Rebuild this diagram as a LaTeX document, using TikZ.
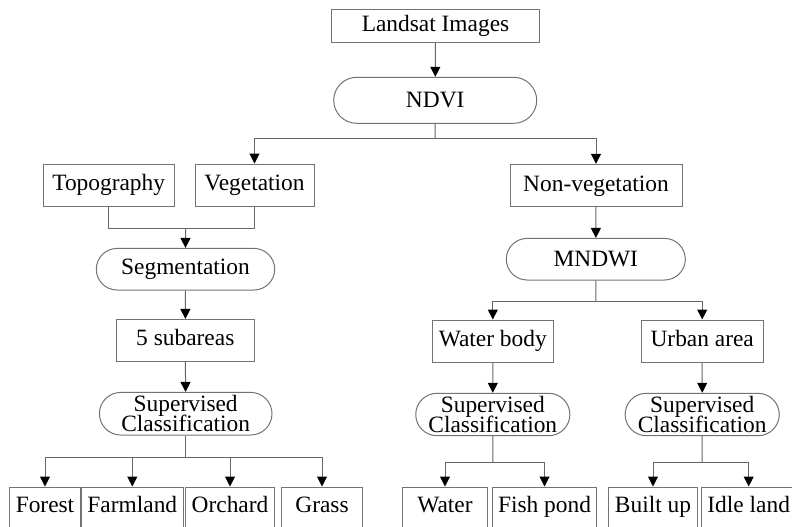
\documentclass[tikz,border=0pt]{standalone}
\usepackage{fontspec}
\setmainfont{Liberation Serif}
\usetikzlibrary{shapes}
\usetikzlibrary{shapes.misc}
\usetikzlibrary{arrows.meta}
\newcommand{\tightfont}{\fontsize{11.7}{10.2}\selectfont\lineskiplimit=-20pt\relax}
\tikzset{
    boxn/.style = {rectangle, draw=black!55, line width=0.5pt, align=center, inner sep=2pt, text height=8.2pt, text depth=2.6pt},
    roundn/.style = {rounded rectangle, draw=black!55, line width=0.5pt, align=center, inner sep=1pt, font=\tightfont},
    leafn/.style = {rectangle, draw=black!55, line width=0.5pt, anchor=north, inner sep=3pt, text height=9.5pt, text depth=40pt},
    edgen/.style = {-, line width=0.5pt, black!60},
    edgea/.style = {-{Triangle[length=5pt,width=5pt,black]}, line width=0.5pt, black!60},
    every picture/.style={font issue=\fontsize{11.7}{9.6}},
    font issue/.style={execute at begin picture={#1\selectfont}}
}
\begin{document}
\begin{tikzpicture}[x=0.5pt,y=-0.5pt]
\useasboundingbox (0,0) rectangle (792,526);
%
\node[boxn, minimum width=103.8pt, minimum height=16.7pt] at (435.5,26) (land) {Landsat Images};
\node[roundn, minimum width=103.5pt, minimum height=23pt] at (435.2,100.3) (ndvi) {NDVI};
\node[boxn, minimum width=65.3pt, minimum height=21.3pt] at (108.7,185.3) (topo) {Topography};
\node[boxn, minimum width=59.5pt, minimum height=21.3pt] at (254.5,185.3) (veg) {Vegetation};
\node[roundn, minimum width=91.2pt, minimum height=20.8pt] at (185.5,269.2) (seg) {Segmentation};
\node[boxn, minimum width=68.7pt, minimum height=20.8pt] at (185.3,340.2) (sub) {5 subareas};
\node[roundn, minimum width=88.3pt, minimum height=21.3pt] at (185.7,413.7) (supa) {Supervised\\Classification};
\node[boxn, minimum width=86pt, minimum height=21.2pt] at (596,185.5) (nonveg) {Non-vegetation};
\node[roundn, minimum width=91.5pt, minimum height=20.8pt] at (595.8,259.2) (mndwi) {MNDWI};
\node[boxn, minimum width=60.5pt, minimum height=21.3pt] at (492.8,341.3) (wbody) {Water body};
\node[boxn, minimum width=60.8pt, minimum height=21.3pt] at (702.2,341.3) (urban) {Urban area};
\node[roundn, minimum width=73.8pt, minimum height=21.2pt] at (492.8,414.5) (supb) {Supervised\\Classification};
\node[roundn, minimum width=75.5pt, minimum height=21.2pt] at (702.2,414.5) (supc) {Supervised\\Classification};
%
\node[leafn, minimum width=33.3pt] at (45,486.5) (forest) {Forest};
\node[leafn, minimum width=46.6pt] at (132.3,486.5) (farm) {Farmland};
\node[leafn, minimum width=44pt] at (230,486.5) (orchard) {Orchard};
\node[leafn, minimum width=40.3pt] at (322,486.5) (grass) {Grass};
\node[leafn, minimum width=42.3pt] at (445,486.5) (water) {Water};
\node[leafn, minimum width=47.8pt] at (544.5,486.5) (fish) {Fish pond};
\node[leafn, minimum width=41.3pt] at (653,486.5) (built) {Built up};
\node[leafn, minimum width=42pt] at (748.7,486.5) (idle) {Idle land};
%
\coordinate (spa) at (435.2,138.3);
\coordinate (jn) at (185.5,228.3);
\coordinate (spb) at (185.7,457.7);
\coordinate (spc) at (595.8,301.7);
\coordinate (spd) at (492.8,462.7);
\coordinate (spe) at (702.2,462.7);
%
\draw[edgea] (land) -- (ndvi);
\draw[edgen] (ndvi) -- (spa);
\draw[edgea] (spa) -| (veg);
\draw[edgea] (spa) -| (nonveg);
\draw[edgen] (topo) |- (jn) -| (veg);
\draw[edgea] (jn) -- (seg);
\draw[edgea] (seg) -- (sub);
\draw[edgea] (sub) -- (supa);
\draw[edgen] (supa) -- (spb);
\foreach \n in {forest,farm,orchard,grass}
    \draw[edgea] (spb) -| (\n);
\draw[edgea] (nonveg) -- (mndwi);
\draw[edgen] (mndwi) -- (spc);
\draw[edgea] (spc) -| (wbody);
\draw[edgea] (spc) -| (urban);
\draw[edgea] (wbody) -- (supb);
\draw[edgea] (urban) -- (supc);
\draw[edgen] (supb) -- (spd);
\draw[edgen] (supc) -- (spe);
\draw[edgea] (spd) -| (water);
\draw[edgea] (spd) -| (fish);
\draw[edgea] (spe) -| (built);
\draw[edgea] (spe) -| (idle);

\end{tikzpicture}
\end{document}
